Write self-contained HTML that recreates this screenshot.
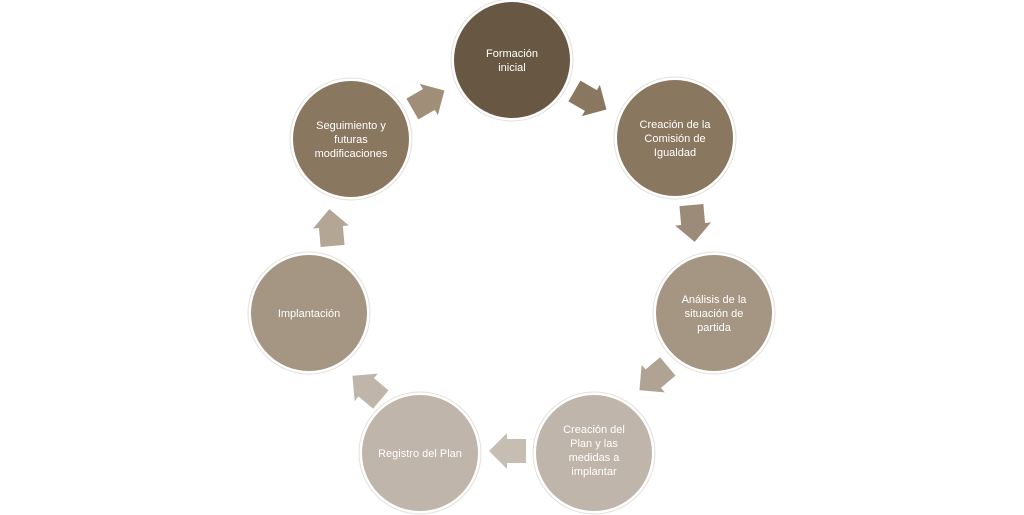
<!DOCTYPE html>
<html><head><meta charset="utf-8"><style>
html,body{margin:0;padding:0;background:#fff;width:1024px;height:515px;overflow:hidden}
svg text{font-family:"Liberation Sans",sans-serif;font-size:11px;fill:#fff;text-anchor:middle}
</style></head><body>
<svg width="1024" height="515" viewBox="0 0 1024 515">
<defs>
<path id="ar" d="M-18,-12 L1,-12 L1,-18 L19,0 L1,18 L1,12 L-18,12 Z"/>
</defs>
<g stroke="#e4e0dc" stroke-width="1">
<circle cx="512" cy="60" r="61" fill="#fff"/>
<circle cx="675" cy="138" r="61" fill="#fff"/>
<circle cx="714" cy="313" r="61" fill="#fff"/>
<circle cx="594" cy="453" r="61" fill="#fff"/>
<circle cx="420" cy="453" r="61" fill="#fff"/>
<circle cx="309" cy="313" r="61" fill="#fff"/>
<circle cx="351" cy="139" r="61" fill="#fff"/>
</g>
<circle cx="512" cy="60" r="58" fill="#685843"/>
<circle cx="675" cy="138" r="58" fill="#8a7760"/>
<circle cx="714" cy="313" r="58" fill="#a49683"/>
<circle cx="594" cy="453" r="58" fill="#c0b5aa"/>
<circle cx="420" cy="453" r="58" fill="#c0b5aa"/>
<circle cx="309" cy="313" r="58" fill="#a49683"/>
<circle cx="351" cy="139" r="58" fill="#8a7760"/>

<use href="#ar" fill="#a08e79" transform="translate(428,100) rotate(-30)"/>
<use href="#ar" fill="#8a7760" transform="translate(590,100) rotate(30)"/>
<use href="#ar" fill="#9b8b78" transform="translate(693,223) rotate(85)"/>
<use href="#ar" fill="#b0a393" transform="translate(654,378) rotate(140)"/>
<use href="#ar" fill="#c6bdb3" transform="translate(508,451) rotate(180)"/>
<use href="#ar" fill="#c0b5aa" transform="translate(367,388) rotate(220)"/>
<use href="#ar" fill="#b3a695" transform="translate(331,228) rotate(-95)"/>

<text x="512" y="57">Formación</text>
<text x="512" y="71">inicial</text>
<text x="675" y="128">Creación de la</text>
<text x="675" y="142">Comisión de</text>
<text x="675" y="156">Igualdad</text>
<text x="714" y="303">Análisis de la</text>
<text x="714" y="317">situación de</text>
<text x="714" y="331">partida</text>
<text x="594" y="433">Creación del</text>
<text x="594" y="447">Plan y las</text>
<text x="594" y="461">medidas a</text>
<text x="594" y="475">implantar</text>
<text x="420" y="457">Registro del Plan</text>
<text x="309" y="317">Implantación</text>
<text x="351" y="129">Seguimiento y</text>
<text x="351" y="143">futuras</text>
<text x="351" y="157">modificaciones</text>
</svg>
</body></html>
